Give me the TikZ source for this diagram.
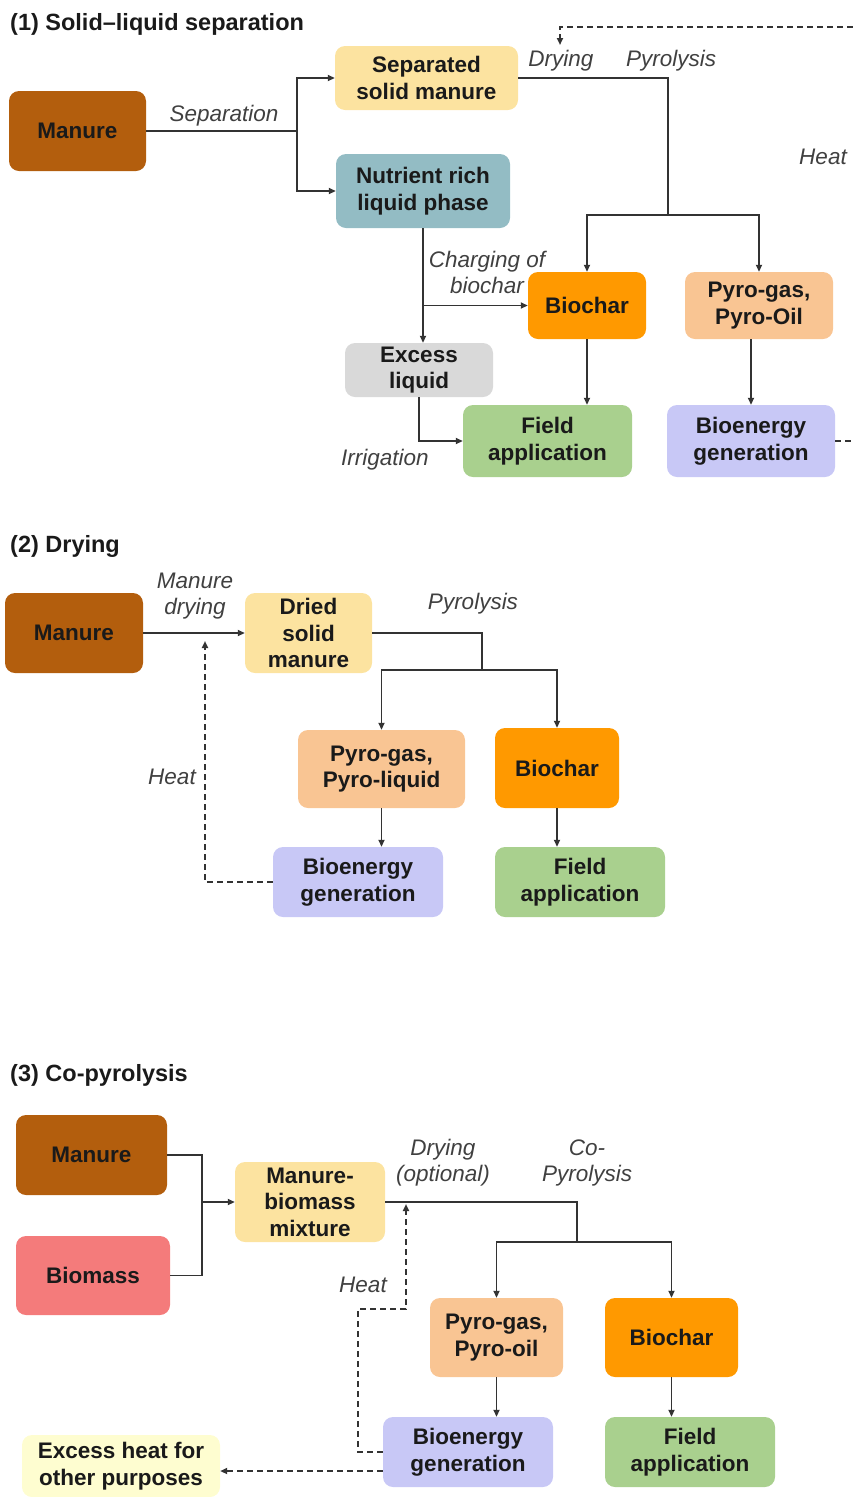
\documentclass[tikz,border=0pt]{standalone}
\usepackage{fontspec}
\setmainfont{Liberation Sans}
\usetikzlibrary{arrows.meta}
\definecolor{cman}{HTML}{B35E0D}
\definecolor{cyel}{HTML}{FCE3A0}
\definecolor{cnut}{HTML}{93BCC4}
\definecolor{cbio}{HTML}{FF9900}
\definecolor{cpyr}{HTML}{F9C593}
\definecolor{cexl}{HTML}{D9D9D9}
\definecolor{cfld}{HTML}{A9D08E}
\definecolor{cbe}{HTML}{C8C8F6}
\definecolor{cbms}{HTML}{F47B7B}
\definecolor{cehe}{HTML}{FEFDD0}
\definecolor{cline}{HTML}{333333}
\definecolor{ctxt}{HTML}{1A1A1A}
\definecolor{clab}{HTML}{404040}
\begin{document}
\begin{tikzpicture}[x=1pt,y=-1pt,
 box/.style={draw=none, rounded corners=10pt, align=center, inner sep=1pt, font=\bfseries\fontsize{22.5}{26.5}\selectfont, text=ctxt},
 lab/.style={align=center, inner sep=0pt, font=\itshape\fontsize{22.5}{26}\selectfont, text=clab},
 ttl/.style={anchor=west, inner sep=0pt, font=\bfseries\fontsize{23.5}{28}\selectfont, text=ctxt},
 conn/.style={draw=cline, line width=1.8pt},
 arr/.style={conn, -{Triangle[length=7pt,width=6pt]}},
 dconn/.style={conn, dash pattern=on 6pt off 4pt},
 darr/.style={dconn, -{Triangle[length=7pt,width=6pt]}}
]
\useasboundingbox (0,0) rectangle (853,1497);

% ---------- Section 1 ----------
\node[ttl] (t1) at (10,24) {(1) Solid--liquid separation};
\node[box, fill=cman, minimum width=137pt, minimum height=80pt] (m1) at (77.5,131) {Manure};
\node[box, fill=cyel, minimum width=183pt, minimum height=64pt] (sep) at (426.5,78) {Separated\\solid manure};
\node[box, fill=cnut, minimum width=174pt, minimum height=74pt] (nut) at (423,191) {Nutrient rich\\liquid phase};
\node[box, fill=cbio, minimum width=118pt, minimum height=67pt] (bc1) at (587,305.5) {Biochar};
\node[box, fill=cpyr, minimum width=148pt, minimum height=67pt] (pg1) at (759,305.5) {Pyro-gas,\\Pyro-Oil};
\node[box, fill=cexl, minimum width=148pt, minimum height=54pt] (ex1) at (419,370) {Excess\\liquid};
\node[box, fill=cfld, minimum width=169pt, minimum height=72pt] (fa1) at (547.5,441) {Field\\application};
\node[box, fill=cbe, minimum width=168pt, minimum height=72pt] (be1) at (751,441) {Bioenergy\\generation};

\node[lab] (lsep) at (224,116) {Separation};
\node[lab] (ldry) at (561,61) {Drying};
\node[lab] (lpyr) at (671,61) {Pyrolysis};
\node[lab] (lheat1) at (823,157) {Heat};
\node[lab] (lchg) at (487,272) {Charging of\\biochar};
\node[lab] (lirr) at (385,460) {Irrigation};

\coordinate (j1) at (297,131);
\draw[conn] (m1.east) -- (j1);
\draw[arr] (j1) |- (sep.west);
\draw[arr] (j1) |- (nut.west);
\coordinate (j2) at (668,215);
\draw[conn] (sep.east) -| (j2);
\draw[arr] (j2) -| (bc1.north);
\draw[arr] (j2) -| (pg1.north);
\draw[arr] (nut.south) -- (nut.south |- ex1.north);
\coordinate (j3) at (nut.south |- bc1.west);
\draw[arr] (j3) -- (bc1.west);
\draw[arr] (ex1.south) |- (fa1.west);
\draw[arr] (bc1.south) -- (bc1.south |- fa1.north);
\draw[arr] (be1.north |- pg1.south) -- (be1.north);
\coordinate (tr) at (853,27);
\coordinate (dt) at (560,45);
\draw[darr] (tr) -| (dt);
\draw[dconn] (be1.east) -- (be1.east -| tr);

% ---------- Section 2 ----------
\node[ttl] (t2) at (10,546) {(2) Drying};
\node[box, fill=cman, minimum width=138pt, minimum height=80pt] (m2) at (74,633) {Manure};
\node[box, fill=cyel, minimum width=127pt, minimum height=80pt] (dr2) at (308.5,633) {Dried\\solid\\manure};
\node[box, fill=cpyr, minimum width=167pt, minimum height=78pt] (pg2) at (381.5,769) {Pyro-gas,\\Pyro-liquid};
\node[box, fill=cbio, minimum width=124pt, minimum height=80pt] (bc2) at (557,768) {Biochar};
\node[box, fill=cbe, minimum width=170pt, minimum height=70pt] (be2) at (358,882) {Bioenergy\\generation};
\node[box, fill=cfld, minimum width=170pt, minimum height=70pt] (fa2) at (580,882) {Field\\application};

\node[lab] (lmd) at (195,596) {Manure\\drying};
\node[lab] (lpyr2) at (473,604) {Pyrolysis};
\node[lab] (lheat2) at (172,777) {Heat};

\draw[arr] (m2.east) -- (dr2.west);
\coordinate (h2) at (205,641);
\draw[darr] (be2.west) -| (h2);
\coordinate (j4) at (482,670);
\draw[conn] (dr2.east) -| (j4);
\draw[arr] (j4) -| (pg2.north);
\draw[arr] (j4) -| (bc2.north);
\draw[arr] (pg2.south) -- (pg2.south |- be2.north);
\draw[arr] (bc2.south) -- (bc2.south |- fa2.north);

% ---------- Section 3 ----------
\node[ttl] (t3) at (10,1075) {(3) Co-pyrolysis};
\node[box, fill=cman, minimum width=151pt, minimum height=80pt] (m3) at (91.5,1155) {Manure};
\node[box, fill=cbms, minimum width=154pt, minimum height=79pt] (bm) at (93,1275.5) {Biomass};
\node[box, fill=cyel, minimum width=150pt, minimum height=80pt] (mx) at (310,1202) {Manure-\\biomass\\mixture};
\node[box, fill=cpyr, minimum width=133pt, minimum height=79pt] (pg3) at (496.5,1337.5) {Pyro-gas,\\Pyro-oil};
\node[box, fill=cbio, minimum width=133pt, minimum height=79pt] (bc3) at (671.5,1337.5) {Biochar};
\node[box, fill=cbe, minimum width=170pt, minimum height=70pt] (be3) at (468,1452) {Bioenergy\\generation};
\node[box, fill=cfld, minimum width=170pt, minimum height=70pt] (fa3) at (690,1452) {Field\\application};
\node[box, fill=cehe, minimum width=198pt, minimum height=62pt] (eh) at (121,1466) {Excess heat for\\other purposes};

\node[lab] (ldo) at (443,1163) {Drying\\(optional)};
\node[lab] (lcp) at (587,1163) {Co-\\Pyrolysis};
\node[lab] (lheat3) at (363,1285) {Heat};

\coordinate (j5) at (202,1202);
\draw[conn] (m3.east) -| (j5);
\draw[conn] (bm.east) -| (j5);
\draw[arr] (j5) -- (mx.west);
\coordinate (j6) at (577,1242);
\draw[conn] (mx.east) -| (j6);
\draw[arr] (j6) -| (pg3.north);
\draw[arr] (j6) -| (bc3.north);
\draw[arr] (pg3.south) -- (pg3.south |- be3.north);
\draw[arr] (bc3.south) -- (bc3.south |- fa3.north);
\coordinate (h3a) at (358,1309);
\coordinate (h3b) at (406,1204);
\draw[darr] (be3.west) -| (h3a) -| (h3b);
\coordinate (eo) at ([yshift=-19pt]be3.west);
\draw[darr] (eo) -- (eo -| eh.east);
\end{tikzpicture}
\end{document}
